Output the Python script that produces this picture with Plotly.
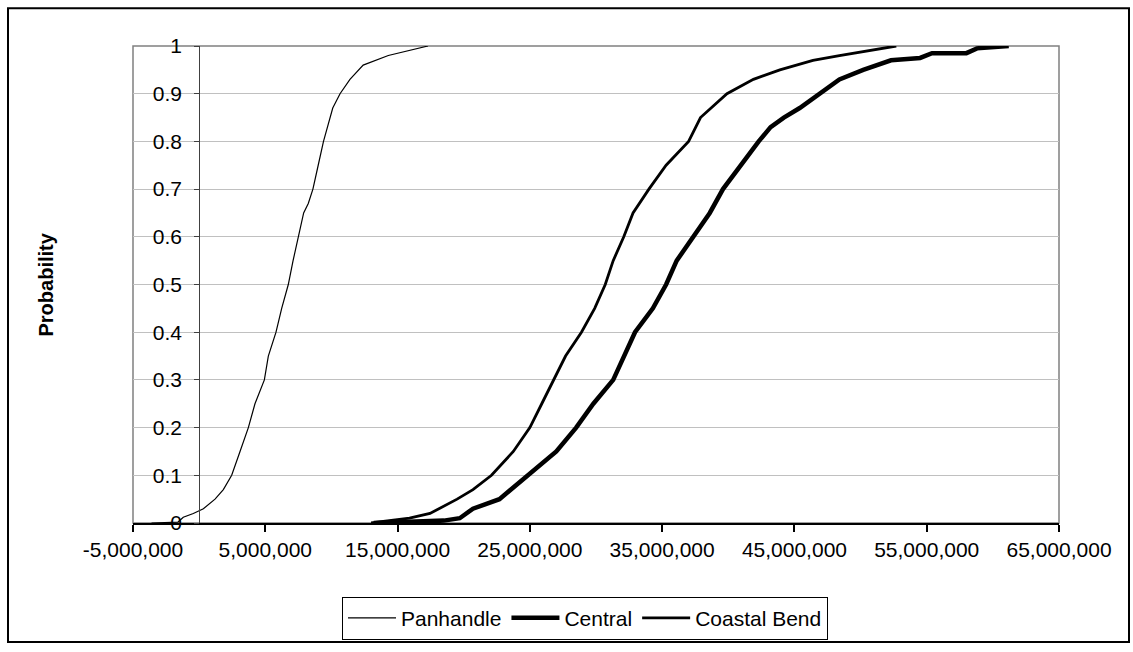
import plotly.graph_objects as go

# ---------------- data (values in millions of dollars) ----------------
panhandle_prob = [0, 0.002, 0.012, 0.02, 0.03, 0.05, 0.07, 0.1, 0.15, 0.2, 0.25, 0.3, 0.35,
                  0.4, 0.45, 0.5, 0.55, 0.6, 0.65, 0.67, 0.7, 0.75, 0.8, 0.87, 0.9, 0.93,
                  0.96, 0.98, 0.99, 1.0]
panhandle_val = [-3.6, -1.6, -1.2, -0.44, 0.32, 1.2, 1.83, 2.46, 3.09, 3.72, 4.22, 4.93, 5.23,
                 5.81, 6.24, 6.74, 7.1, 7.5, 7.9, 8.25, 8.6, 9.0, 9.4, 10.1, 10.65, 11.4,
                 12.4, 14.3, 15.7, 17.3]

central_prob = [0, 0.005, 0.01, 0.03, 0.05, 0.1, 0.15, 0.2, 0.25, 0.3, 0.35, 0.4, 0.45, 0.5,
                0.55, 0.6, 0.65, 0.7, 0.75, 0.8, 0.83, 0.85, 0.87, 0.9, 0.93, 0.95, 0.97,
                0.975, 0.985, 0.985, 0.995, 1.0]
central_val = [13.2, 18.5, 19.7, 20.7, 22.7, 24.8, 27.0, 28.5, 29.8, 31.3, 32.1, 32.95, 34.3,
               35.3, 36.1, 37.4, 38.6, 39.6, 40.9, 42.3, 43.2, 44.2, 45.4, 46.9, 48.4, 50.2,
               52.3, 54.5, 55.4, 58.0, 58.8, 61.2]

coastal_prob = [0, 0.01, 0.02, 0.05, 0.07, 0.1, 0.15, 0.2, 0.25, 0.3, 0.35, 0.4, 0.45, 0.5,
                0.55, 0.6, 0.65, 0.7, 0.75, 0.8, 0.85, 0.9, 0.93, 0.95, 0.97, 0.98, 0.99, 1.0]
coastal_val = [13.0, 15.9, 17.45, 19.5, 20.7, 22.1, 23.75, 25.0, 25.9, 26.8, 27.7, 28.9, 29.9,
               30.7, 31.3, 32.1, 32.8, 34.0, 35.3, 37.0, 37.9, 39.9, 41.9, 43.9, 46.4, 48.4,
               50.7, 52.7]

x_tick_vals = [-5000000, 5000000, 15000000, 25000000, 35000000, 45000000, 55000000, 65000000]
x_tick_text = ["-5,000,000", "5,000,000", "15,000,000", "25,000,000", "35,000,000",
               "45,000,000", "55,000,000", "65,000,000"]
y_tick_vals = [0, 0.1, 0.2, 0.3, 0.4, 0.5, 0.6, 0.7, 0.8, 0.9, 1]
y_tick_text = ["0", "0.1", "0.2", "0.3", "0.4", "0.5", "0.6", "0.7", "0.8", "0.9", "1"]

# ---------------- layout geometry (pixels) ----------------
W, H = 1133, 652
L, R, T, B = 133, 1059, 46, 527
XMIN, XMAX = -5000000, 65000000
FONT = "Liberation Sans, Arial, sans-serif"
FS = 21


def px_x(p):
    return (p - L) / (R - L)


def px_y(p):
    return (B - p) / (B - T)


fig = go.Figure()
fig.add_trace(go.Scatter(x=[v * 1e6 for v in panhandle_val], y=panhandle_prob, mode="lines",
                         name="Panhandle", line=dict(color="black", width=1.2)))
fig.add_trace(go.Scatter(x=[v * 1e6 for v in central_val], y=central_prob, mode="lines",
                         name="Central", line=dict(color="black", width=4.5)))
fig.add_trace(go.Scatter(x=[v * 1e6 for v in coastal_val], y=coastal_prob, mode="lines",
                         name="Coastal Bend", line=dict(color="black", width=2.8)))

fig.update_layout(
    width=W, height=H, autosize=False,
    margin=dict(l=L, r=W - R, t=T, b=H - B, pad=0),
    paper_bgcolor="white", plot_bgcolor="white",
    font=dict(family=FONT, size=FS, color="black"),
    showlegend=True,
    legend=dict(orientation="h", x=px_x(585), y=px_y(623), xanchor="center", yanchor="middle",
                bordercolor="black", borderwidth=1, bgcolor="white",
                font=dict(family=FONT, size=FS, color="black"), itemwidth=48,
                tracegroupgap=0),
    xaxis=dict(range=[XMIN, XMAX], tickvals=x_tick_vals, ticktext=x_tick_text,
               showgrid=False, zeroline=False, showline=True, linecolor="black", linewidth=1.5,
               ticks="outside", ticklen=7, tickcolor="black", tickwidth=1.5,
               tickfont=dict(family=FONT, size=FS, color="black"), automargin=False),
    yaxis=dict(range=[0, 1], tickvals=y_tick_vals, ticktext=y_tick_text,
               anchor="free", position=(0 - XMIN) / (XMAX - XMIN),
               showgrid=True, gridcolor="#c0c0c0", gridwidth=1, zeroline=False,
               showline=True, linecolor="#404040", linewidth=1,
               ticks="outside", ticklen=5, tickcolor="#404040", ticklabelstandoff=8,
               tickfont=dict(family=FONT, size=FS, color="black"), automargin=False),
    shapes=[
        dict(type="rect", xref="paper", yref="paper", x0=0, x1=1, y0=0, y1=1,
             line=dict(color="#808080", width=1.5), layer="below"),
        dict(type="rect", xref="paper", yref="paper", x0=px_x(8), x1=px_x(1129),
             y0=px_y(647), y1=px_y(8), line=dict(color="black", width=2)),
    ],
    annotations=[
        dict(text="<b>Probability</b>", xref="paper", yref="paper", x=px_x(45), y=0.5,
             textangle=-90, showarrow=False, font=dict(family=FONT, size=FS - 1, color="black"),
             xanchor="center", yanchor="middle"),
    ],
)

fig.write_html("out.html", config={"displayModeBar": False},
               post_script="document.body.style.margin='0';")
